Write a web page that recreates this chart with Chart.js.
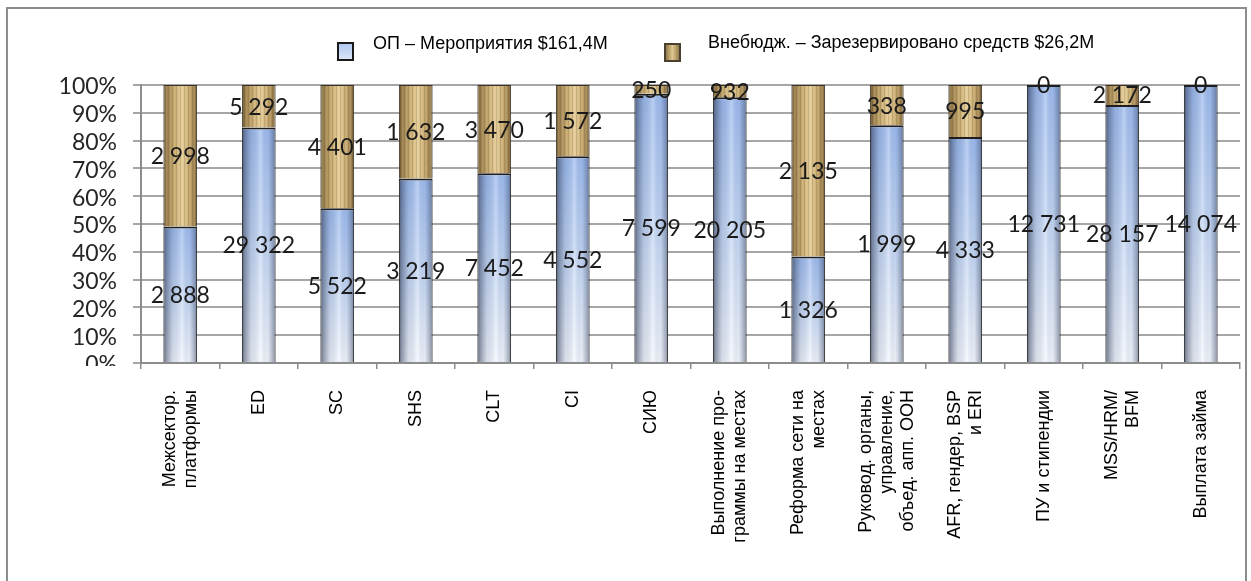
<!DOCTYPE html>
<html>
<head>
<meta charset="utf-8">
<script src="https://cdn.jsdelivr.net/npm/chart.js@4.4.1/dist/chart.umd.min.js"></script>
<style>
  html, body { margin: 0; padding: 0; background: #fff; overflow: hidden; }
  #c { display: block; }
</style>
</head>
<body>
<canvas id="c" width="1251" height="581"></canvas>
<script>
// Budget lines (multi-line names are split where they wrap)
const categories = [
  ['Межсектор.', 'платформы'],
  'ED',
  'SC',
  'SHS',
  'CLT',
  'CI',
  'СИЮ',
  ['Выполнение про-', 'граммы на местах'],
  ['Реформа сети на', 'местах'],
  ['Руковод. органы,', 'управление,', 'объед. апп. ООН'],
  ['AFR, гендер, BSP', 'и ERI'],
  'ПУ и стипендии',
  ['MSS/HRM/', 'BFM'],
  'Выплата займа'
];

// Regular programme activities, thousands of $
const opValues = [2888, 29322, 5522, 3219, 7452, 4552, 7599, 20205, 1326, 1999, 4333, 12731, 28157, 14074];
// Extrabudgetary reserved funds, thousands of $
const ebValues = [2998, 5292, 4401, 1632, 3470, 1572, 250, 932, 2135, 338, 995, 0, 2172, 0];

const seriesNames = ['ОП – Мероприятия $161,4М', 'Внебюдж. – Зарезервировано средств $26,2М'];
const yTickLabels = ['0%', '10%', '20%', '30%', '40%', '50%', '60%', '70%', '80%', '90%', '100%'];

// 100% stacking: each column is split by share of its own total
const totals = opValues.map((v, i) => v + ebValues[i]);
const opShare = opValues.map((v, i) => totals[i] ? v / totals[i] * 100 : 0);
const ebShare = ebValues.map((v, i) => totals[i] ? v / totals[i] * 100 : 0);

const BAR_PCT = 0.43;

function fmtThousands(v) {
  return String(v).replace(/\B(?=(\d{3})+(?!\d))/g, ' ');
}

// Shaded column fills: one offscreen canvas per series holding every bar's
// cylinder-like shading, used as a non-repeating pattern in canvas space.
const fillCache = {};
function paintBlue(g, x0, x1, top, bot) {
  const vg = g.createLinearGradient(0, top, 0, bot);
  vg.addColorStop(0, '#9dbbef');
  vg.addColorStop(0.45, '#c0d4f4');
  vg.addColorStop(1, '#f4f7fd');
  g.fillStyle = vg;
  g.fillRect(x0, top, x1 - x0, bot - top);
  const hg = g.createLinearGradient(x0, 0, x1, 0);
  hg.addColorStop(0, 'rgba(20,28,48,0.8)');
  hg.addColorStop(0.1, 'rgba(40,52,80,0.5)');
  hg.addColorStop(0.3, 'rgba(60,75,105,0.14)');
  hg.addColorStop(0.55, 'rgba(255,255,255,0.28)');
  hg.addColorStop(0.75, 'rgba(60,75,105,0.06)');
  hg.addColorStop(0.92, 'rgba(40,52,80,0.4)');
  hg.addColorStop(1, 'rgba(20,28,48,0.75)');
  g.fillStyle = hg;
  g.fillRect(x0, top, x1 - x0, bot - top);
}
function paintGold(g, x0, x1, top, bot) {
  const hg = g.createLinearGradient(x0, 0, x1, 0);
  hg.addColorStop(0, '#5e4a2a');
  hg.addColorStop(0.12, '#9a7f4e');
  hg.addColorStop(0.35, '#c9ad74');
  hg.addColorStop(0.55, '#e6cf9c');
  hg.addColorStop(0.75, '#c8ab72');
  hg.addColorStop(0.9, '#9d8150');
  hg.addColorStop(1, '#604c2c');
  g.fillStyle = hg;
  g.fillRect(x0, top, x1 - x0, bot - top);
  // fine vertical grain
  for (let x = Math.floor(x0); x < x1; x++) {
    const k = x % 4;
    if (k === 0) { g.fillStyle = 'rgba(70,50,20,0.16)'; g.fillRect(x, top, 1, bot - top); }
    else if (k === 2) { g.fillStyle = 'rgba(255,240,200,0.12)'; g.fillRect(x, top, 1, bot - top); }
  }
}
function segmentFill(c) {
  const chart = c.chart;
  const xs = chart.scales.x, ys = chart.scales.y;
  const fallback = c.datasetIndex === 0 ? '#b4caf0' : '#c8a96e';
  if (!chart.chartArea || !xs || !ys || !(xs.right > xs.left)) return fallback;
  const key = c.datasetIndex + ':' + chart.width + 'x' + chart.height + ':' +
    Math.round(xs.left) + ':' + Math.round(xs.right) + ':' + Math.round(ys.top) + ':' + Math.round(ys.bottom);
  if (fillCache[key]) return fillCache[key];
  const off = document.createElement('canvas');
  off.width = chart.width; off.height = chart.height;
  const g = off.getContext('2d');
  const band = (xs.right - xs.left) / categories.length;
  const w = band * BAR_PCT;
  categories.forEach((_, i) => {
    const cx = xs.getPixelForValue(i);
    const x0 = cx - w / 2 - 1, x1 = cx + w / 2 + 1;
    let top, bot;
    if (c.datasetIndex === 0) {
      top = ys.getPixelForValue(opShare[i]); bot = ys.getPixelForValue(0);
    } else {
      top = ys.getPixelForValue(100); bot = ys.getPixelForValue(opShare[i]);
    }
    if (bot - top < 0.5) return;
    if (c.datasetIndex === 0) paintBlue(g, x0, x1, top - 1, bot + 1);
    else paintGold(g, x0, x1, top - 1, bot + 1);
  });
  const pat = chart.ctx.createPattern(off, 'no-repeat');
  fillCache[key] = pat;
  return pat;
}

// Frame around the whole figure
const framePlugin = {
  id: 'frame',
  beforeDraw(chart) {
    const ctx = chart.ctx;
    ctx.save();
    ctx.fillStyle = '#ffffff';
    ctx.fillRect(0, 0, chart.width, chart.height);
    ctx.strokeStyle = '#8c8c8c';
    ctx.lineWidth = 2;
    ctx.strokeRect(7, 8, 1239, 600);
    ctx.restore();
  }
};

// Value labels centred in each stacked segment
const valueLabelPlugin = {
  id: 'valueLabels',
  afterDatasetsDraw(chart) {
    const ctx = chart.ctx;
    ctx.save();
    ctx.font = '23px Lato, "Open Sans", sans-serif';
    ctx.fillStyle = '#1a1a1a';
    ctx.textAlign = 'center';
    ctx.textBaseline = 'middle';
    chart.data.datasets.forEach((ds, di) => {
      const meta = chart.getDatasetMeta(di);
      const raw = di === 0 ? opValues : ebValues;
      meta.data.forEach((el, i) => {
        const y = (el.y + el.base) / 2;
        ctx.fillText(fmtThousands(raw[i]), el.x, y + 1);
      });
    });
    ctx.restore();
  }
};

// Vertical category names, lines centred on the tick, text ending at the axis
const categoryLabelPlugin = {
  id: 'categoryLabels',
  afterDraw(chart) {
    const xs = chart.scales.x;
    const ctx = chart.ctx;
    ctx.save();
    ctx.font = '18px "Liberation Sans", Arial, sans-serif';
    ctx.fillStyle = '#000000';
    ctx.textAlign = 'right';
    ctx.textBaseline = 'middle';
    const lh = 21;
    categories.forEach((lab, i) => {
      const lines = Array.isArray(lab) ? lab : [lab];
      const cx = xs.getPixelForValue(i);
      lines.forEach((ln, j) => {
        const lx = cx + (j - (lines.length - 1) / 2) * lh;
        ctx.save();
        ctx.translate(lx, 390);
        ctx.rotate(-Math.PI / 2);
        ctx.fillText(ln, 0, 0);
        ctx.restore();
      });
    });
    // the lowest percentage label is cut off by the axis edge
    ctx.fillStyle = '#ffffff';
    ctx.fillRect(30, 366, 102, 24);
    ctx.restore();
  }
};

// Legend drawn above the plot
const legendPlugin = {
  id: 'topLegend',
  afterDraw(chart) {
    const ctx = chart.ctx;
    const spots = [
      { bx: 338, by: 43, tx: 373, ty: 44 },
      { bx: 665, by: 44, tx: 708, ty: 43 }
    ];
    ctx.save();
    ctx.font = '18px "Liberation Sans", Arial, sans-serif';
    ctx.textBaseline = 'middle';
    ctx.textAlign = 'left';
    chart.data.datasets.forEach((ds, di) => {
      const s = spots[di];
      const bw = 15, bh = 17;
      let fill;
      if (di === 0) {
        fill = ctx.createLinearGradient(s.bx, s.by, s.bx, s.by + bh);
        fill.addColorStop(0, '#aec6ef');
        fill.addColorStop(1, '#dce7f8');
      } else {
        fill = ctx.createLinearGradient(s.bx, 0, s.bx + bw, 0);
        fill.addColorStop(0, '#8a7044');
        fill.addColorStop(0.5, '#e0c68e');
        fill.addColorStop(1, '#8a7044');
      }
      ctx.fillStyle = fill;
      ctx.fillRect(s.bx, s.by, bw, bh);
      ctx.strokeStyle = di === 0 ? '#1a1a1a' : '#4a4030';
      ctx.lineWidth = 2;
      ctx.strokeRect(s.bx, s.by, bw, bh);
      ctx.fillStyle = '#000000';
      ctx.fillText(ds.label, s.tx, s.ty);
    });
    ctx.restore();
  }
};

new Chart(document.getElementById('c'), {
  type: 'bar',
  data: {
    labels: categories,
    datasets: [
      {
        label: seriesNames[0],
        data: opShare,
        backgroundColor: segmentFill,
        borderColor: '#1e1e1e',
        borderWidth: { top: 2, left: 1, right: 1, bottom: 0 },
        borderSkipped: false,
        barPercentage: BAR_PCT,
        categoryPercentage: 1
      },
      {
        label: seriesNames[1],
        data: ebShare,
        backgroundColor: segmentFill,
        borderColor: '#3a3226',
        borderWidth: { top: 1, left: 1, right: 1, bottom: 0 },
        borderSkipped: false,
        barPercentage: BAR_PCT,
        categoryPercentage: 1
      }
    ]
  },
  options: {
    responsive: false,
    animation: false,
    events: [],
    layout: { padding: { top: 85, right: 11, left: 0, bottom: 0 } },
    plugins: { legend: { display: false }, tooltip: { enabled: false } },
    scales: {
      x: {
        stacked: true,
        offset: true,
        grid: { offset: true, drawOnChartArea: false, tickLength: 6, color: '#8c8c8c', lineWidth: 1.5 },
        border: { color: '#8c8c8c', width: 2 },
        ticks: { display: false },
        afterFit: s => { s.height = 218; }
      },
      y: {
        stacked: true,
        min: 0,
        max: 100,
        ticks: {
          stepSize: 10,
          autoSkip: false,
          maxTicksLimit: 11,
          padding: 16,
          labelOffset: 2,
          color: '#262626',
          font: { family: 'Lato, "Open Sans", sans-serif', size: 23, lineHeight: 0.9 },
          callback: (v, idx) => yTickLabels[idx]
        },
        grid: { color: '#a6a6a6', lineWidth: 2, tickLength: 8 },
        border: { color: '#8c8c8c', width: 2 },
        afterFit: s => { s.width = 141; }
      }
    }
  },
  plugins: [framePlugin, valueLabelPlugin, categoryLabelPlugin, legendPlugin]
});
</script>
</body>
</html>
